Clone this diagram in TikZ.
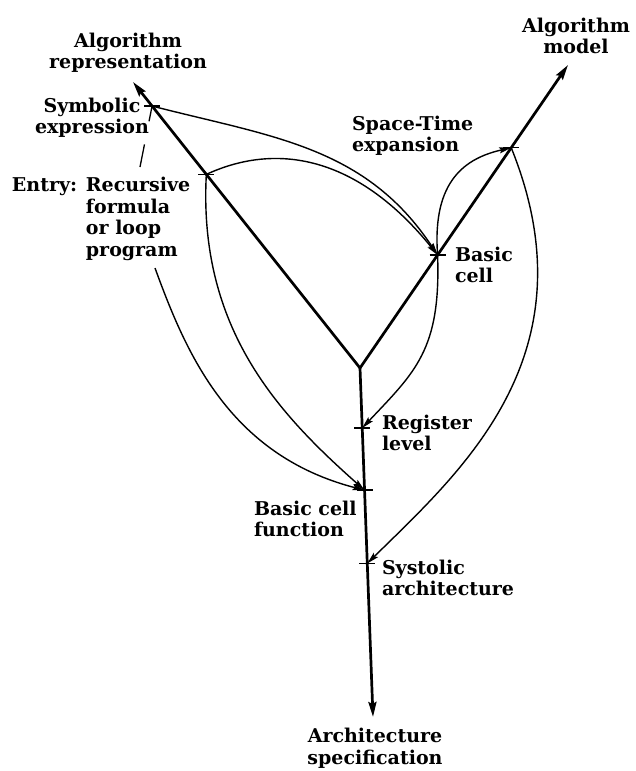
\documentclass[tikz,border=0pt]{standalone}
\usepackage{fontspec}
\setmainfont{DejaVu Serif}
\usetikzlibrary{arrows.meta,calc}
\begin{document}
\begin{tikzpicture}[x=1pt,y=-1pt,
  lbl/.style={font=\fontsize{19}{21.5}\selectfont\bfseries, inner sep=0pt, outer sep=0pt},
  axisline/.style={line width=2.7pt},
  axishead/.style={-{Stealth[length=15pt,width=8pt,inset=2pt]}},
  flow/.style={line width=1.4pt, -{Stealth[length=12pt,width=6pt,inset=2pt]}},
  tickmark/.style={line width=1.5pt},
  leader/.style={line width=1.3pt}]

% page
\fill[white] (0,0) rectangle (635,771);
\useasboundingbox (0,0) rectangle (635,771);

% the three axes meet at the fork
\coordinate (J) at (360,368);
\coordinate (ltip) at (133,82);
\coordinate (rtip) at (568,65);
\coordinate (btip) at (373,717);

% stations along the axes
\coordinate (sym) at ($(J)!0.916!(ltip)$);
\coordinate (rec) at ($(J)!0.677!(ltip)$);
\coordinate (bc)  at ($(J)!0.373!(rtip)$);
\coordinate (am)  at ($(J)!0.727!(rtip)$);
\coordinate (reg) at ($(J)!0.172!(btip)$);
\coordinate (bcf) at ($(J)!0.35!(btip)$);
\coordinate (sys) at ($(J)!0.56!(btip)$);
\coordinate (lead)  at (140,167);
\coordinate (entry) at (155,268);

% axes
\draw[axisline, line join=miter,
      {Stealth[length=15pt,width=8pt,inset=2pt]}-{Stealth[length=15pt,width=8pt,inset=2pt]}]
  (ltip) -- (J) -- (rtip);
\draw[axisline, axishead] (J) -- (btip);

% tick marks
\foreach \p in {sym,rec,bc,am,reg,bcf,sys}
  \draw[tickmark] ([xshift=-8pt]\p) -- ([xshift=8pt]\p);

% leader from the entry to the symbolic expression
\draw[leader] (sym) -- ($(sym)!0.25!(lead)$);
\draw[leader] ($(sym)!0.63!(lead)$) -- (lead);

% design flow
\draw[flow] (sym) .. controls (272,137) and (365.5,146) .. (bc);
\draw[flow] (rec) .. controls (281,140) and (361,160) .. (bc);
\draw[flow] (bc) .. controls (432,180) and (466,158) .. (am);
\draw[flow] (bc) .. controls (441,350) and (415,372) .. (reg);
\draw[flow] (am) .. controls (595,355) and (460,472) .. (sys);
\draw[flow] (rec) .. controls (198,330) and (280,415) .. (bcf);
\draw[flow] (entry) .. controls (186,353) and (229,455) .. (bcf);

% labels
\node[lbl, align=center] (arep) at (128,53) {Algorithm\\representation};
\node[lbl, align=center] (symx) at (92,118) {Symbolic\\expression};
\node[lbl, align=left, anchor=west] (entx) at (12,219)
  {Entry: Recursive\\\hphantom{Entry: }formula\\\hphantom{Entry: }or loop\\\hphantom{Entry: }program};
\node[lbl, align=left, anchor=west] (stexp) at (352,136) {Space-Time\\expansion};
\node[lbl, align=center] (amod) at (576,36) {Algorithm\\model};
\node[lbl, align=left, anchor=west] (bcell) at (455,265) {Basic\\cell};
\node[lbl, align=left, anchor=west] (reglev) at (382,433) {Register\\level};
\node[lbl, align=left, anchor=west] (bcfn) at (254,519) {Basic cell\\function};
\node[lbl, align=left, anchor=west] (sysarch) at (382,578) {Systolic\\architecture};
\node[lbl, align=center] (aspec) at (375,748) {Architecture\\specification};
\end{tikzpicture}
\end{document}
